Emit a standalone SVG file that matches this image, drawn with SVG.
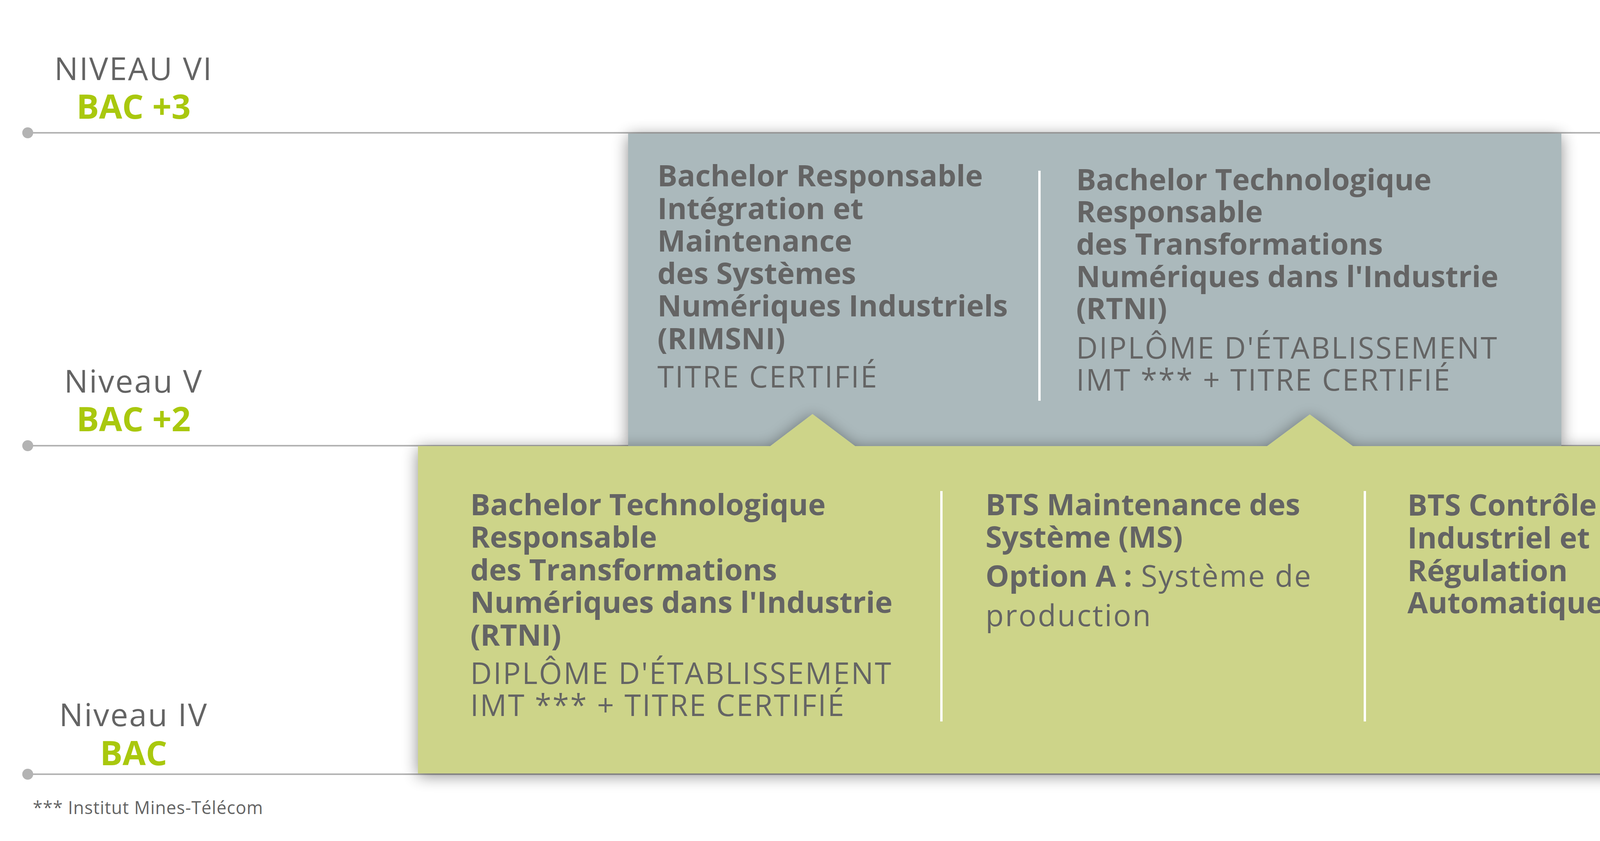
<svg xmlns="http://www.w3.org/2000/svg" width="5254" height="2153" viewBox="0 0 5254 2153">
<defs>
<style>
.t{font-family:"Open Sans","DejaVu Sans",sans-serif;fill:#646464}
.b{font-weight:700;font-size:76px}
.r{font-weight:400;font-size:76px;letter-spacing:3.5px}
.lv{font-family:"Open Sans","DejaVu Sans",sans-serif;fill:#646464;font-size:81px;letter-spacing:3px;text-anchor:middle}
.bac{font-family:"Open Sans","DejaVu Sans",sans-serif;fill:#a9c80e;font-weight:700;font-size:86px;text-anchor:middle}
.ln{stroke:#b3b3b3;stroke-width:4}
.dot{fill:#b3b3b3}
.div{stroke:#ffffff;stroke-width:6}
</style>
<filter id="sh" x="-5%" y="-15%" width="110%" height="135%">
<feGaussianBlur in="SourceAlpha" stdDeviation="20"/>
<feOffset dy="6"/>
<feComponentTransfer><feFuncA type="linear" slope="0.45"/></feComponentTransfer>
<feMerge><feMergeNode/><feMergeNode in="SourceGraphic"/></feMerge>
</filter>
</defs>
<rect width="5254" height="2153" fill="#ffffff"/>

<g id="levels">
<line class="ln" x1="71" y1="340" x2="5135" y2="340"/>
<line class="ln" x1="71" y1="1141" x2="5135" y2="1141"/>
<line class="ln" x1="71" y1="1982" x2="5135" y2="1982"/>
<circle class="dot" cx="71" cy="340" r="14"/>
<circle class="dot" cx="71" cy="1141" r="14"/>
<circle class="dot" cx="71" cy="1982" r="14"/>
<text class="lv" x="342" y="205">NIVEAU VI</text>
<text class="bac" x="342" y="304">BAC +3</text>
<text class="lv" x="342" y="1005">Niveau V</text>
<text class="bac" x="342" y="1104">BAC +2</text>
<text class="lv" x="342" y="1859">Niveau IV</text>
<text class="bac" x="342" y="1959">BAC</text>
<text class="t" x="84" y="2084" font-size="45" letter-spacing="1">*** Institut Mines-Télécom</text>
</g>

<g id="level-vi-box">
<rect x="1608" y="342" width="2389" height="800" fill="#abb9bc" filter="url(#sh)"/>
<line class="div" x1="2661" y1="437" x2="2661" y2="1026"/>
</g>

<g id="level-v-box">
<path d="M1070,1142 H1972 L2080,1060 L2189,1142 H3244 L3353,1061 L3463,1142 H4494 V1980 H1070 Z" fill="#cdd489" filter="url(#sh)"/>
<line class="div" x1="2410" y1="1257" x2="2410" y2="1847"/>
<line class="div" x1="3494" y1="1257" x2="3494" y2="1847"/>
</g>

<g id="rimsni">
<text class="t b" x="1683" y="477">Bachelor Responsable</text>
<text class="t b" x="1683" y="561">Intégration et</text>
<text class="t b" x="1683" y="644">Maintenance</text>
<text class="t b" x="1683" y="727">des Systèmes</text>
<text class="t b" x="1683" y="810">Numériques Industriels</text>
<text class="t b" x="1683" y="894">(RIMSNI)</text>
<text class="t r" x="1683" y="992">TITRE CERTIFIÉ</text>
</g>

<g id="rtni-bac3">
<text class="t b" x="2755" y="487">Bachelor Technologique</text>
<text class="t b" x="2755" y="569">Responsable</text>
<text class="t b" x="2755" y="652">des Transformations</text>
<text class="t b" x="2755" y="735">Numériques dans l'Industrie</text>
<text class="t b" x="2755" y="817">(RTNI)</text>
<text class="t r" x="2755" y="918" letter-spacing="2.5">DIPLÔME D'ÉTABLISSEMENT</text>
<text class="t r" x="2755" y="1000">IMT *** + TITRE CERTIFIÉ</text>
</g>

<g id="rtni-bac2">
<text class="t b" x="1204" y="1319">Bachelor Technologique</text>
<text class="t b" x="1204" y="1402">Responsable</text>
<text class="t b" x="1204" y="1486">des Transformations</text>
<text class="t b" x="1204" y="1569">Numériques dans l'Industrie</text>
<text class="t b" x="1204" y="1653">(RTNI)</text>
<text class="t r" x="1204" y="1751" letter-spacing="2.5">DIPLÔME D'ÉTABLISSEMENT</text>
<text class="t r" x="1204" y="1833">IMT *** + TITRE CERTIFIÉ</text>
</g>

<g id="bts-ms">
<text class="t b" x="2523" y="1319">BTS Maintenance des</text>
<text class="t b" x="2523" y="1402">Système (MS)</text>
<text class="t" x="2523" y="1502" font-size="76"><tspan font-weight="700">Option A :</tspan><tspan letter-spacing="3"> Système de</tspan></text>
<text class="t r" x="2523" y="1603">production</text>
</g>

<g id="bts-cira">
<text class="t b" x="3603" y="1320">BTS Contrôle</text>
<text class="t b" x="3603" y="1404">Industriel et</text>
<text class="t b" x="3603" y="1488">Régulation</text>
<text class="t b" x="3603" y="1570">Automatique (CIRA)</text>
</g>
</svg>
